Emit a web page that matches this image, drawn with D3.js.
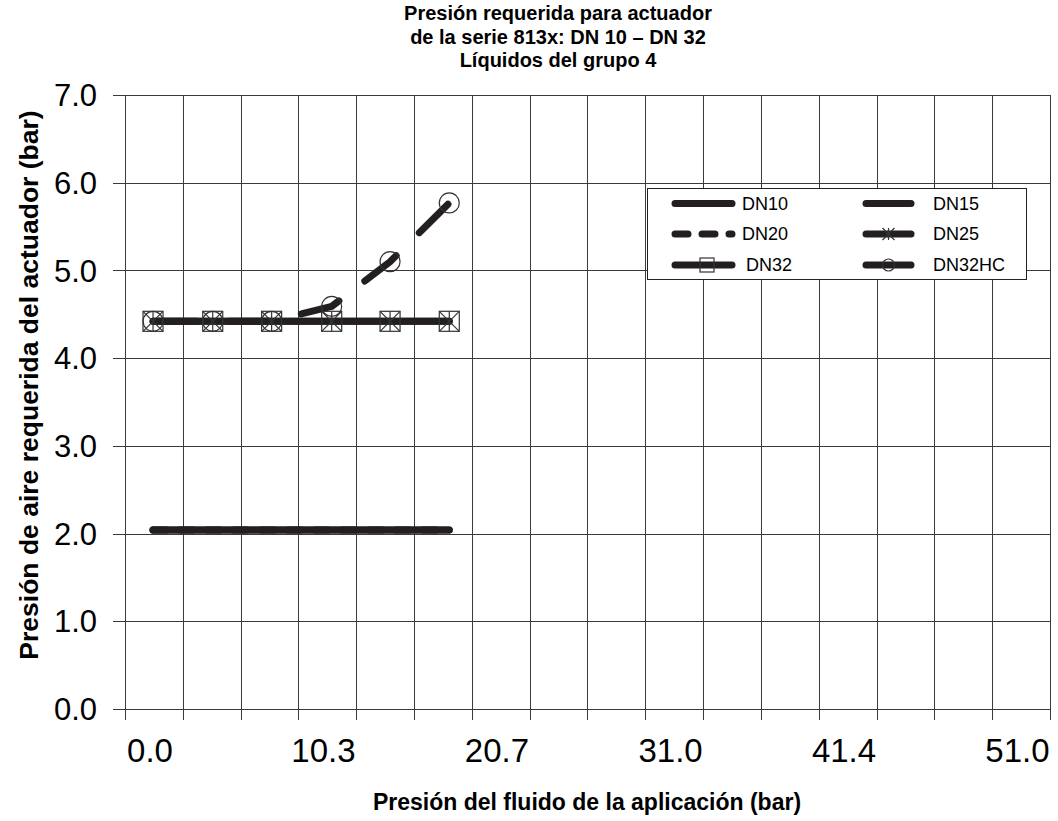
<!DOCTYPE html>
<html>
<head>
<meta charset="utf-8">
<script src="https://cdn.jsdelivr.net/npm/d3@7"></script>
<style>
  html, body { margin: 0; padding: 0; background: #fff; }
  svg { display: block; font-family: "Liberation Sans", Arial, sans-serif; }
</style>
</head>
<body>
<svg id="chart" width="1058" height="821"></svg>
<script>
// ---- data ----
const titleLines = ["Presión requerida para actuador", "de la serie 813x: DN 10 – DN 32", "Líquidos del grupo 4"];
const xTitle = "Presión del fluido de la aplicación (bar)";
const yTitle = "Presión de aire requerida del actuador (bar)";
const xTickValues = [0, 10.34, 20.68, 31.03, 41.37, 51.71];
const xTickLabels = ["0.0", "10.3", "20.7", "31.0", "41.4", "51.0"];
const yTickValues = [0, 1, 2, 3, 4, 5, 6, 7];
const fluidPressure = [0.18, 3.74, 7.25, 10.83, 14.31, 17.84];
const seriesNames = ["DN10", "DN15", "DN20", "DN25", "DN32", "DN32HC"];
const dn10 = [2.04, 2.04, 2.04, 2.04, 2.04, 2.04];
const dn15 = [2.04, 2.04, 2.04, 2.04, 2.04, 2.04];
const dn20 = [2.04, 2.04, 2.04, 2.04, 2.04, 2.04];
const dn25 = [4.42, 4.42, 4.42, 4.42, 4.42, 4.42];
const dn32 = [4.42, 4.42, 4.42, 4.42, 4.42, 4.42];
const dn32hc = [4.42, 4.42, 4.42, 4.59, 5.10, 5.77];

// ---- layout ----
const ink = "#231f20";
const grid = "#3a3a3a";
const svg = d3.select("#chart");
const L = 125, R = 1050, T = 95, B = 709;
const x = d3.scaleLinear().domain([-1.49, 53.648]).range([L, R]);
const y = d3.scaleLinear().domain([0, 7]).range([B, T]);
const xGrid = d3.range(17).map(i => x.invert(L + i * (R - L) / 16));

// grid lines
const g = svg.append("g");
g.selectAll(".vg").data(xGrid).join("line")
  .attr("x1", d => Math.round(x(d)) + 0.5).attr("x2", d => Math.round(x(d)) + 0.5)
  .attr("y1", T).attr("y2", B + 11)
  .attr("stroke", grid).attr("stroke-width", 1);
g.selectAll(".hg").data(yTickValues).join("line")
  .attr("x1", L - 12).attr("x2", R + 0.5)
  .attr("y1", d => Math.round(y(d)) + 0.5).attr("y2", d => Math.round(y(d)) + 0.5)
  .attr("stroke", grid).attr("stroke-width", 1);

// y tick labels
svg.append("g").selectAll("text").data(yTickValues).join("text")
  .attr("x", 97).attr("y", d => y(d)).attr("dy", "0.36em")
  .attr("text-anchor", "end").attr("font-size", 31).attr("fill", "#000")
  .text(d => d.toFixed(1));

// x tick labels
svg.append("g").selectAll("text").data(xTickValues).join("text")
  .attr("x", d => x(d)).attr("y", 762)
  .attr("text-anchor", "middle").attr("font-size", 33).attr("fill", "#000")
  .text((d, i) => xTickLabels[i]);

// titles
svg.append("g").selectAll("text").data(titleLines).join("text")
  .attr("x", 558).attr("y", (d, i) => 20 + i * 23.5)
  .attr("text-anchor", "middle").attr("font-size", 20).attr("font-weight", "bold")
  .text(d => d);
svg.append("text").attr("x", 587).attr("y", 810).attr("text-anchor", "middle")
  .attr("font-size", 23).attr("font-weight", "bold").text(xTitle);
svg.append("text").attr("transform", "translate(38,385) rotate(-90)").attr("text-anchor", "middle")
  .attr("font-size", 26.5).attr("font-weight", "bold").text(yTitle);

// series
const series = [
  {name: "DN10", values: dn10, dash: null, marker: null},
  {name: "DN15", values: dn15, dash: null, marker: null},
  {name: "DN20", values: dn20, dash: "13,14", marker: null},
  {name: "DN25", values: dn25, dash: null, marker: "star"},
  {name: "DN32", values: dn32, dash: null, marker: "square"},
  {name: "DN32HC", values: dn32hc, dash: "40.4,32.6", marker: "circle"}
];
const line = d3.line().x(d => x(d[0])).y(d => y(d[1]));
const lines = svg.append("g");
series.forEach(s => {
  const pts = fluidPressure.map((p, i) => [p, s.values[i]]);
  lines.append("path").attr("d", line(pts))
    .attr("fill", "none").attr("stroke", ink).attr("stroke-width", 7)
    .attr("stroke-linecap", "round").attr("stroke-linejoin", "round")
    .attr("stroke-dasharray", s.dash).attr("stroke-dashoffset", s.name === "DN32HC" ? 69.8 : 0);
});

function drawMarker(sel, type, cx, cy, size) {
  const h = size / 2;
  const st = {stroke: "#333", "stroke-width": 1.2, fill: "none"};
  const app = (tag) => { const e = sel.append(tag); Object.entries(st).forEach(([k, v]) => e.attr(k, v)); return e; };
  if (type === "square") {
    app("rect").attr("x", cx - h).attr("y", cy - h).attr("width", size).attr("height", size);
  } else if (type === "circle") {
    app("circle").attr("cx", cx).attr("cy", cy).attr("r", h);
  } else if (type === "star") {
    app("line").attr("x1", cx - h).attr("y1", cy - h).attr("x2", cx + h).attr("y2", cy + h);
    app("line").attr("x1", cx - h).attr("y1", cy + h).attr("x2", cx + h).attr("y2", cy - h);
    app("line").attr("x1", cx).attr("y1", cy - h).attr("x2", cx).attr("y2", cy + h);
  }
}
const marks = svg.append("g");
series.filter(s => s.marker).forEach(s => {
  fluidPressure.forEach((p, i) => {
    drawMarker(marks, s.marker, x(p), y(s.values[i]), 20);
  });
});

// legend
const lg = svg.append("g");
lg.append("rect").attr("x", 647.5).attr("y", 188.5).attr("width", 379).attr("height", 91)
  .attr("fill", "#fff").attr("stroke", "#222").attr("stroke-width", 1);
const rows = [203.5, 234, 265];
const cols = [{x1: 675, x2: 732, tx: 742}, {x1: 866, x2: 911, tx: 933}];
series.forEach((s, i) => {
  const c = cols[i % 2], ry = rows[Math.floor(i / 2)];
  const isHC = s.name === "DN32HC";
  lg.append("line").attr("x1", c.x1).attr("x2", c.x2).attr("y1", ry).attr("y2", ry)
    .attr("stroke", ink).attr("stroke-width", 7).attr("stroke-linecap", "round")
    .attr("stroke-dasharray", isHC ? null : s.dash);
  if (s.marker) {
    const mx = (c.x1 + c.x2) / 2;
    drawMarker(lg, s.marker, s.name === "DN32" ? 707 : mx, ry, s.marker === "square" ? 14 : 12);
  }
  lg.append("text").attr("x", s.name === "DN32" ? 746 : c.tx).attr("y", ry).attr("dy", "0.36em")
    .attr("font-size", 18).attr("fill", "#000").text(s.name);
});
</script>
</body>
</html>
